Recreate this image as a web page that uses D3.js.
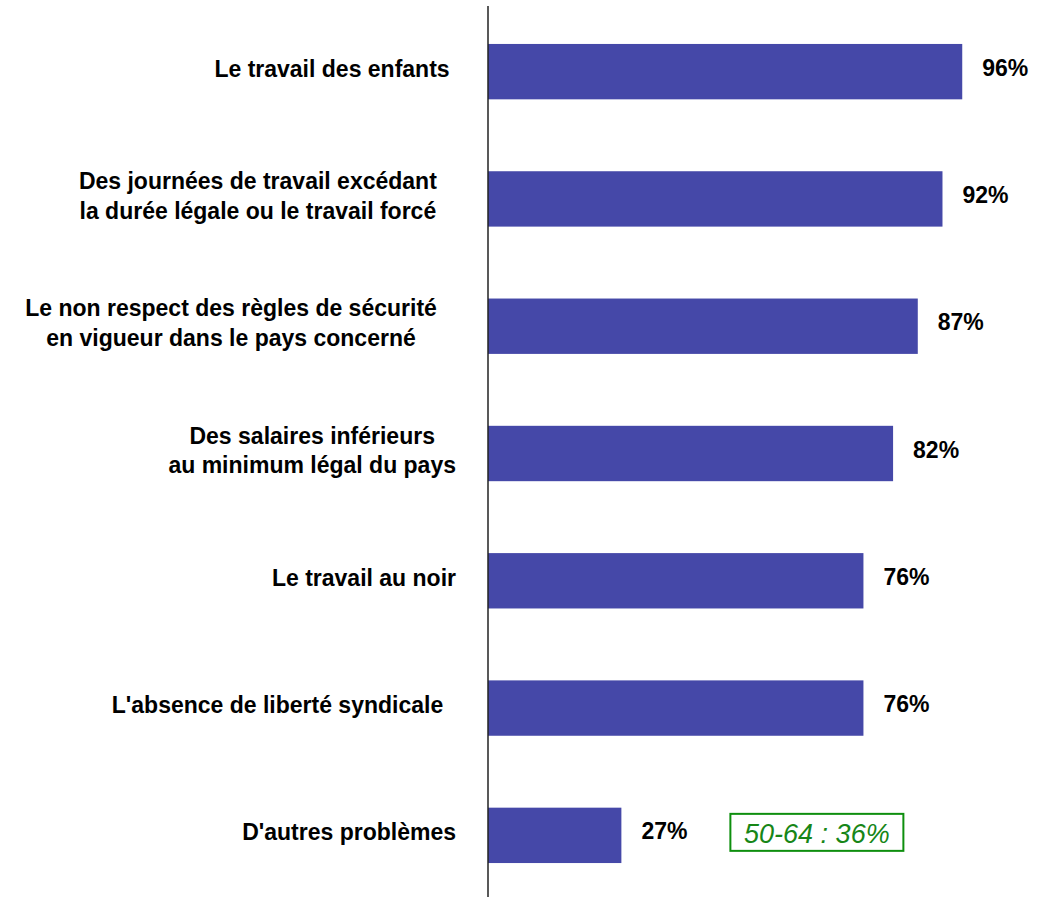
<!DOCTYPE html>
<html>
<head>
<meta charset="utf-8">
<script src="https://cdn.jsdelivr.net/npm/d3@7"></script>
<style>
  body { margin: 0; background: #fff; }
  text { font-family: "Liberation Sans", Arial, sans-serif; white-space: pre; }
</style>
</head>
<body>
<script>
// categories (one array of lines per bar, trailing spaces kept as in the source)
var categories = [
	["Le travail des enfants "],
	["Des journées de travail excédant   ", "la durée légale ou le travail forcé   "],
	["Le non respect des règles de sécurité   ", "en vigueur dans le pays concerné   "],
	["Des salaires inférieurs", "au minimum légal du pays"],
	["Le travail au noir"],
	["L'absence de liberté syndicale  "],
	["D'autres problèmes"]
];
var values = [96, 92, 87, 82, 76, 76, 27];
var valueLabels = ["96%", "92%", "87%", "82%", "76%", "76%", "27%"];
var note = "50-64 : 36%";

var WIDTH = 1044;
var HEIGHT = 897;
var LEFT = 488;

var svg = d3.select("body")
	.append("svg")
	.attr("width", WIDTH)
	.attr("height", HEIGHT);

var x = d3.scaleLinear()
	.domain([0, 100])
	.range([LEFT, LEFT + 494]);

var y = d3.scaleBand()
	.domain(d3.range(values.length))
	.range([8, 899])
	.paddingInner(0.565)
	.paddingOuter(0.2825);

// bars
svg.selectAll("rect.bar")
	.data(values)
	.enter()
	.append("rect")
	.attr("class", "bar")
	.attr("x", x(0))
	.attr("y", function(d, i) { return y(i); })
	.attr("width", function(d) { return x(d) - x(0); })
	.attr("height", y.bandwidth())
	.attr("fill", "#4548A8");

// axis line
svg.append("line")
	.attr("x1", LEFT).attr("x2", LEFT)
	.attr("y1", 6).attr("y2", HEIGHT)
	.attr("stroke", "#222")
	.attr("stroke-width", 1.5);

// value labels
svg.selectAll("text.value")
	.data(values)
	.enter()
	.append("text")
	.attr("class", "value")
	.attr("x", function(d) { return x(d) + 20; })
	.attr("y", function(d, i) { return y(i) + y.bandwidth() / 2 + 4; })
	.attr("font-size", 23)
	.attr("font-weight", "bold")
	.attr("fill", "#000")
	.text(function(d, i) { return valueLabels[i]; });

// category labels: lines centred on each other, block right-aligned
var LABEL_RIGHT = 456;
var LINE_H = 29.5;
categories.forEach(function(lines, i) {
	var cy = y(i) + y.bandwidth() / 2;
	var g = svg.append("g");
	var texts = lines.map(function(line, j) {
		return g.append("text")
			.attr("y", cy + 5 + (j - (lines.length - 1) / 2) * LINE_H)
			.attr("font-size", 23)
			.attr("font-weight", "bold")
			.attr("text-anchor", "middle")
			.attr("fill", "#000")
			.text(line);
	});
	var maxW = d3.max(texts, function(t) { return t.node().getComputedTextLength(); });
	texts.forEach(function(t) { t.attr("x", LABEL_RIGHT - maxW / 2); });
});

// note box beside the last bar
var last = values.length - 1;
var boxX = x(values[last]) + 109;
var boxY = y(last) + y.bandwidth() / 2 - 21.5;
svg.append("rect")
	.attr("x", boxX)
	.attr("y", boxY)
	.attr("width", 173)
	.attr("height", 37)
	.attr("fill", "none")
	.attr("stroke", "#0E8F0E")
	.attr("stroke-width", 2);
svg.append("text")
	.attr("x", boxX + 86.5)
	.attr("y", boxY + 29)
	.attr("text-anchor", "middle")
	.attr("font-size", 27)
	.attr("font-style", "italic")
	.attr("fill", "#178617")
	.text(note);
</script>
</body>
</html>
